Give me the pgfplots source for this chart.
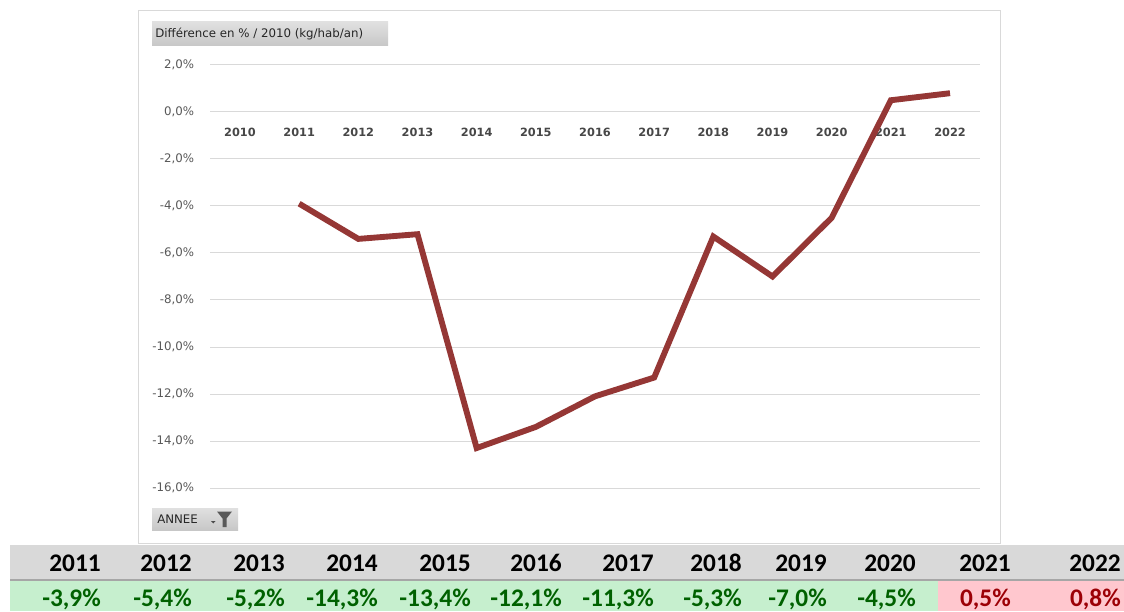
\documentclass[border=0pt]{standalone}
\usepackage{pgfplots}
\pgfplotsset{compat=1.18}
\usepackage{fontspec}
\setmainfont{DejaVu Sans}
\newfontfamily\calibri{Carlito}

\definecolor{gridgray}{HTML}{D9D9D9}
\definecolor{ticktext}{HTML}{595959}
\definecolor{linered}{HTML}{953735}
\definecolor{hdrgray}{HTML}{D9D9D9}
\definecolor{sepgray}{HTML}{A6A6A6}
\definecolor{goodfill}{HTML}{C6EFCE}
\definecolor{goodtext}{HTML}{006100}
\definecolor{badfill}{HTML}{FFC7CE}
\definecolor{badtext}{HTML}{9C0006}

\begin{document}
\begin{tikzpicture}[x=0.75pt,y=0.75pt]
\path[use as bounding box, fill=white] (0,0) rectangle (1124,611);
% everything below is laid out in pixel coordinates measured from the top
\begin{scope}[shift={(0,611)}, yscale=-1]
\draw[gridgray, fill=white, line width=0.75pt] (138.5,10.5) rectangle (1000.5,543.5);
\end{scope}

% plot area: x 210.4..979.6 px, y 65..488 px from top
\begin{axis}[
    at={(157.8pt,92.25pt)}, anchor=south west,
    scale only axis, width=576.9pt, height=317.25pt,
    xmin=-0.5, xmax=12.5, ymin=-16, ymax=2,
    axis y line=left, axis x line=middle,
    y axis line style={draw=none},
    x axis line style={gridgray, line width=0.75pt, -},
    hide obscured x ticks=false, hide obscured y ticks=false,
    major tick length=0pt,
    ytick={-16,-14,...,2},
    xtick={0,...,12},
    xticklabels={2010,2011,2012,2013,2014,2015,2016,2017,2018,2019,2020,2021,2022},
    ymajorgrids, grid style={gridgray, line width=0.75pt},
    yticklabel={\pgfmathprintnumber[fixed,fixed zerofill,precision=1,use comma,assume math mode=true]{\tick}\%},
    yticklabel style={font=\fontsize{8.85}{10}\selectfont, text=ticktext, inner sep=0pt, anchor=east, xshift=-12pt},
    xticklabel style={font=\fontsize{8.5}{10}\selectfont\bfseries, text=black!72, inner sep=0pt, anchor=north, yshift=-11.5pt},
    clip=false,
]
\addplot[linered, line width=4.4pt, line join=miter] coordinates {
(1,-3.9) (2,-5.4) (3,-5.2) (4,-14.3) (5,-13.4) (6,-12.1)
(7,-11.3) (8,-5.3) (9,-7.0) (10,-4.5) (11,0.5) (12,0.8)
};
\end{axis}

\begin{scope}[shift={(0,611)}, yscale=-1]
% field buttons
\shade[top color=white!88!black, bottom color=white!78!black] (152,22) rectangle (388,46);
\node[anchor=west, inner sep=0pt, text=black!85, font=\fontsize{8.85}{10}\selectfont] at (155,34.5) {Différence en \% / 2010 (kg/hab/an)};
\shade[top color=white!88!black, bottom color=white!78!black] (152,508) rectangle (238,530);
\node[anchor=west, inner sep=0pt, text=black!85, font=\fontsize{8.85}{10}\selectfont] at (157,519.5) {ANNEE};
\fill[black!70] (211,521) -- (215.5,521) -- (213.25,523.5) -- cycle;
\fill[black!65] (217,511.5) -- (232,511.5) -- (226.5,518.5) -- (226.5,527) -- (222.5,527) -- (222.5,518.5) -- cycle;

% data table
\fill[hdrgray] (10,545) rectangle (1124,579);
\fill[sepgray] (10,579) rectangle (1124,581);
\fill[goodfill] (10,581) rectangle (938,611);
\fill[badfill] (938,581) rectangle (1124,611);
\foreach \r/\yr/\v/\c in {101/2011/{-3,9\%}/goodtext, 192/2012/{-5,4\%}/goodtext, 285/2013/{-5,2\%}/goodtext,
    378/2014/{-14,3\%}/goodtext, 471/2015/{-13,4\%}/goodtext, 562/2016/{-12,1\%}/goodtext,
    654/2017/{-11,3\%}/goodtext, 742/2018/{-5,3\%}/goodtext, 827/2019/{-7,0\%}/goodtext,
    916/2020/{-4,5\%}/goodtext, 1011/2021/{0,5\%}/badtext, 1121/2022/{0,8\%}/badtext} {
  \node[anchor=east, inner sep=0pt, font=\calibri\fontsize{19}{22}\selectfont\bfseries] at (\r,563) {\yr};
  \node[anchor=east, inner sep=0pt, text=\c, font=\calibri\fontsize{19}{22}\selectfont\bfseries] at (\r,599) {\v};
}
\end{scope}
\end{tikzpicture}
\end{document}
